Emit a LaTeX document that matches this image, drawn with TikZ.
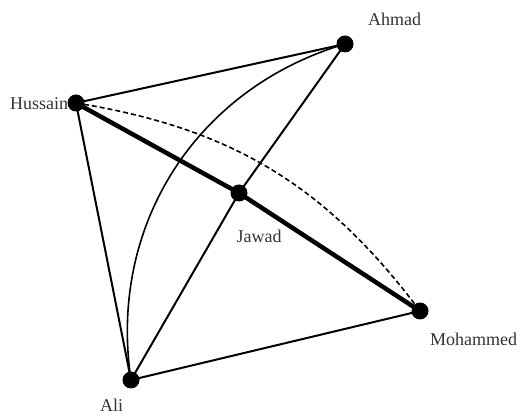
\documentclass[tikz,border=0pt]{standalone}
\usepackage{fontspec}
\setmainfont{Liberation Serif}
\begin{document}
\begin{tikzpicture}[x=1pt,y=1pt,
  dot/.style={circle,fill=black,minimum size=17pt,inner sep=0pt},
  lbl/.style={anchor=base west,inner sep=0pt,text=black!80,font=\fontsize{18}{20}\selectfont},
  thin edge/.style={line width=2pt},
  thick edge/.style={line width=4.5pt},
  arc edge/.style={line width=1.6pt},
  dash edge/.style={line width=1.6pt,dash pattern=on 5pt off 3pt}]
\useasboundingbox (0,0) rectangle (522,415);
\coordinate (Ahmad) at (345,371);
\coordinate (Hussain) at (76,312);
\coordinate (Jawad) at (239,222);
\coordinate (Mohammed) at (420,104);
\coordinate (Ali) at (131,35);
\draw[thin edge] (Hussain) -- (Ahmad);
\draw[thin edge] (Hussain) -- (Ali);
\draw[thin edge] (Ahmad) -- (Jawad);
\draw[thin edge] (Jawad) -- (Ali);
\draw[thin edge] (Ali) -- (Mohammed);
\draw[thick edge] (Hussain) -- (Jawad);
\draw[thick edge] (Jawad) -- (Mohammed);
\draw[arc edge] (Ali) to[bend left=41] (Ahmad);
\draw[dash edge] (Hussain) to[bend left=22] (Mohammed);
\node[dot] (dAhmad) at (Ahmad) {};
\node[dot] (dHussain) at (Hussain) {};
\node[dot] (dJawad) at (Jawad) {};
\node[dot] (dMohammed) at (Mohammed) {};
\node[dot] (dAli) at (Ali) {};
\node[lbl] (lAhmad) at (368,389) {Ahmad};
\node[lbl] (lHussain) at (10,305) {Hussain};
\node[lbl] (lJawad) at (236.5,172) {Jawad};
\node[lbl] (lMohammed) at (430,69) {Mohammed};
\node[lbl] (lAli) at (100,4) {Ali};
\end{tikzpicture}
\end{document}
